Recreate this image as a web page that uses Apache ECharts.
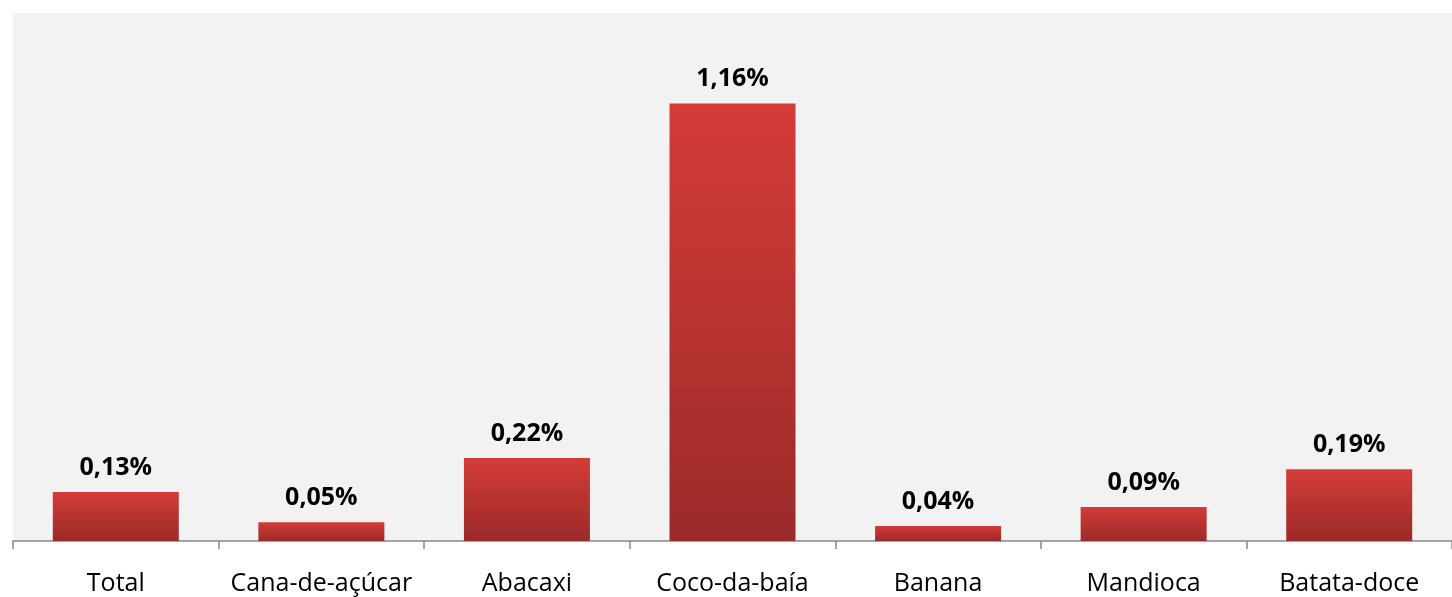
<!DOCTYPE html>
<html><head><meta charset="utf-8">
<script src="https://cdn.jsdelivr.net/npm/echarts@6/dist/echarts.min.js"></script>
<style>html,body{margin:0;padding:0;background:#fff}#c{width:1452px;height:597px}</style>
</head><body><div id="c"></div>
<script>
const categories = ['Total','Cana-de-açúcar','Abacaxi','Coco-da-baía','Banana','Mandioca','Batata-doce'];
const values = [0.13,0.05,0.22,1.16,0.04,0.09,0.19];
const chart = echarts.init(document.getElementById('c'));
chart.setOption({
  animation:false,
  grid:{left:13,right:0,top:13,bottom:56,show:true,backgroundColor:'#f2f2f2',borderWidth:0},
  xAxis:{type:'category',data:categories,
    axisLine:{lineStyle:{color:'#888',width:1.5}},
    axisTick:{show:true,interval:0,length:8,lineStyle:{color:'#888',width:1.5}},
    axisLabel:{interval:0,color:'#000',fontSize:25,fontFamily:'Open Sans, Liberation Sans, sans-serif',margin:30}},
  yAxis:{type:'value',min:0,max:1.4,show:false,splitLine:{show:false}},
  series:[{type:'bar',data:values,barWidth:126,
    itemStyle:{color:new echarts.graphic.LinearGradient(0,0,0,1,[{offset:0,color:'#d43c38'},{offset:1,color:'#9b2a29'}])},
    label:{show:true,position:'top',distance:12,fontWeight:'bold',fontSize:25,color:'#000',
      fontFamily:'Open Sans, Liberation Sans, sans-serif',
      formatter:p=>p.value.toFixed(2).replace('.',',')+'%'}}]
});
</script></body></html>
